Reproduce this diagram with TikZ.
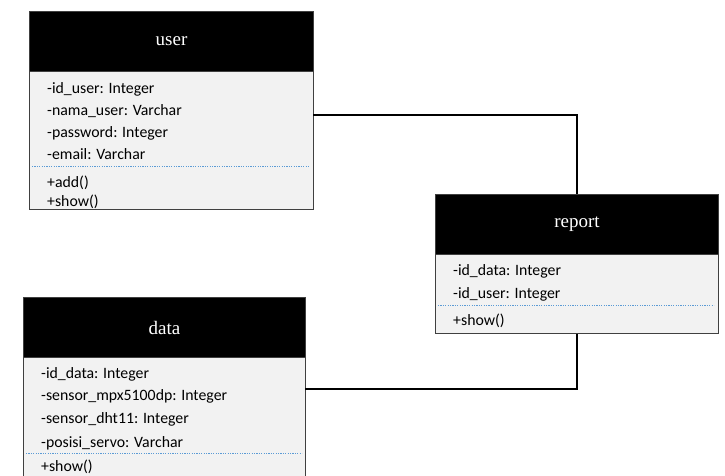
\documentclass[tikz,border=0pt]{standalone}
\usepackage{fontspec}
\setmainfont{Carlito}
\newfontfamily\headfont{Liberation Serif}
\definecolor{boxfill}{HTML}{F2F2F2}
\definecolor{boxline}{HTML}{404040}
\definecolor{sepblue}{HTML}{5B9BD5}
\tikzset{
  classbody/.style={draw=boxline, fill=boxfill, line width=1pt, anchor=north west, inner sep=0pt},
  classhead/.style={draw=boxline, fill=black, line width=1pt, anchor=north west, inner sep=0pt},
  headtxt/.style={text=white, font=\headfont\fontsize{19}{22}\selectfont, inner sep=0pt},
  attr/.style={anchor=base west, inner sep=0pt, font=\fontsize{15.8}{18}\selectfont},
  sepline/.style={draw=sepblue, line width=0.8pt, dash pattern=on 1.2pt off 1.2pt},
  link/.style={draw=black, line width=1.3pt}
}
\begin{document}
\begin{tikzpicture}[x=1pt,y=-1pt]
\useasboundingbox (0,0) rectangle (725,475);
\clip (0,0) rectangle (725,475);
% ---------- user ----------
\node[classbody, minimum width=284pt, minimum height=138pt] (userbody) at (29,71) {};
\node[classhead, minimum width=284pt, minimum height=60pt] (userhead) at (29,11) {};
\node[headtxt] (usertitle) at (userhead.center) {user};
\node[attr] (u1) at (47,93) {-id\_user: Integer};
\node[attr] (u2) at (47,115) {-nama\_user: Varchar};
\node[attr] (u3) at (47,137) {-password: Integer};
\node[attr] (u4) at (47,159) {-email: Varchar};
\node[attr] (u5) at (47,187) {+add()};
\node[attr] (u6) at (47,206) {+show()};
\coordinate (usep1) at (32,166);
\coordinate (usep2) at (309,166);
\draw[sepline] (usep1) -- (usep2);
% ---------- report ----------
\node[classbody, minimum width=283pt, minimum height=79pt] (reportbody) at (435,254) {};
\node[classhead, minimum width=283pt, minimum height=60pt] (reporthead) at (435,194) {};
\node[headtxt] (reporttitle) at (reporthead.center) {report};
\node[attr] (r1) at (453,275) {-id\_data: Integer};
\node[attr] (r2) at (453,298) {-id\_user: Integer};
\node[attr] (r3) at (453,325) {+show()};
\coordinate (rsep1) at (438,305);
\coordinate (rsep2) at (714,305);
\draw[sepline] (rsep1) -- (rsep2);
% ---------- data ----------
\node[classbody, minimum width=282pt, minimum height=140pt] (databody) at (23,357) {};
\node[classhead, minimum width=282pt, minimum height=60pt] (datahead) at (23,297) {};
\node[headtxt] (datatitle) at (datahead.center) {data};
\node[attr] (d1) at (41,378) {-id\_data: Integer};
\node[attr] (d2) at (41,400) {-sensor\_mpx5100dp: Integer};
\node[attr] (d3) at (41,423) {-sensor\_dht11: Integer};
\node[attr] (d4) at (41,447) {-posisi\_servo: Varchar};
\node[attr] (d5) at (41,471) {+show()};
\coordinate (dsep1) at (26,453);
\coordinate (dsep2) at (302,453);
\draw[sepline] (dsep1) -- (dsep2);
% ---------- connectors ----------
\coordinate (ulink) at (313,115);
\coordinate (dlink) at (305,389);
\draw[link] (ulink) -| (reporthead.north);
\draw[link] (dlink) -| (reportbody.south);
\end{tikzpicture}
\end{document}
